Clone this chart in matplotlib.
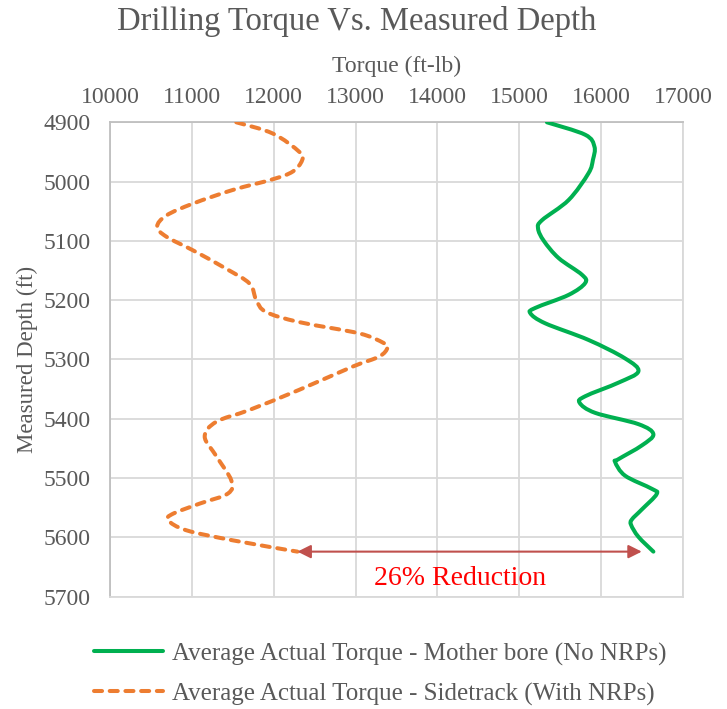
import matplotlib.pyplot as plt
import numpy as np
from matplotlib.path import Path
from matplotlib.patches import PathPatch
from matplotlib.lines import Line2D

plt.rcParams['font.family'] = ['Liberation Serif', 'DejaVu Serif']

# Mother bore (No NRPs)
mother_depth = [4900, 4921, 4941, 4963, 4986, 5031, 5065, 5079, 5100, 5129, 5157,
                5171, 5191, 5213, 5222, 5239, 5267, 5298, 5320, 5339, 5362, 5373,
                5390, 5409, 5426, 5445, 5468, 5473, 5496, 5518, 5527, 5553, 5570,
                5579, 5599, 5624]
mother_torque = [15338, 15805, 15918, 15900, 15845, 15603, 15278, 15229, 15300, 15481, 15765,
                 15805, 15603, 15196, 15135, 15317, 15845, 16290, 16455, 16212, 15805, 15737,
                 15927, 16455, 16638, 16496, 16212, 16171, 16293, 16618, 16678, 16496, 16374,
                 16366, 16455, 16638]

# Sidetrack (With NRPs)
side_depth = [4900, 4919, 4950, 4964, 4983, 4996, 5014, 5037, 5057, 5076, 5093,
              5116, 5147, 5172, 5200, 5220, 5237, 5256, 5272, 5280, 5295, 5312,
              5351, 5385, 5405, 5430, 5463, 5504, 5526, 5543, 5560, 5571, 5588,
              5605, 5624]
side_torque = [11543, 11990, 12314, 12347, 12233, 11990, 11502, 11015, 10690, 10576, 10690,
               11015, 11420, 11705, 11787, 11908, 12314, 13045, 13340, 13390, 13289, 12964,
               12314, 11705, 11299, 11157, 11299, 11482, 11441, 11096, 10771, 10710, 10933,
               11502, 12290]

label_mother = 'Average Actual Torque - Mother bore (No NRPs)'
label_side = 'Average Actual Torque - Sidetrack (With NRPs)'

arrow_depth = 5624
arrow_from = 12290
arrow_to = 16496
note = "26% Reduction"

x_ticks = list(range(10000, 17001, 1000))
y_ticks = list(range(4900, 5701, 100))

text_gray = '#595959'
grid_gray = '#D9D9D9'
green = '#00B050'
orange = '#ED7D31'
dash = (0, (2.0, 1.9))


def smooth_path(xs, ys):
    # Excel-style smoothed line: bezier segments through the points
    p = np.column_stack([xs, ys]).astype(float)
    n = len(p)
    verts = [p[0]]
    codes = [Path.MOVETO]
    for i in range(n - 1):
        p0 = p[max(i - 1, 0)]
        p1 = p[i]
        p2 = p[i + 1]
        p3 = p[min(i + 2, n - 1)]
        c1 = p1 + (p2 - p0) / 6.0
        c2 = p2 - (p3 - p1) / 6.0
        verts += [c1, c2, p2]
        codes += [Path.CURVE4] * 3
    return Path(verts, codes)


fig = plt.figure(figsize=(7.27, 7.09), dpi=100)
ax = fig.add_axes([0.1513, 0.1584, 0.7882, 0.6691])

g = PathPatch(smooth_path(mother_torque, mother_depth), fill=False,
              edgecolor=green, lw=2.9, capstyle='round', joinstyle='round', zorder=3)
ax.add_patch(g)
o = PathPatch(smooth_path(side_torque, side_depth), fill=False,
              edgecolor=orange, lw=2.9, ls=dash, capstyle='round', joinstyle='round', zorder=3)
ax.add_patch(o)

ax.annotate('', xy=(arrow_from, arrow_depth), xytext=(arrow_to, arrow_depth),
            arrowprops=dict(arrowstyle='<|-|>', color='#C0504D', lw=1.5,
                            mutation_scale=20, shrinkA=0, shrinkB=0))
ax.text((arrow_from + arrow_to) / 2 - 120, arrow_depth + 45, note, color='#FF0000',
        fontsize=20, ha='center', va='center')

ax.set_xlim(10000, 17000)
ax.set_ylim(5700, 4900)
ax.set_xticks(x_ticks)
ax.set_yticks(y_ticks)
ax.xaxis.tick_top()
ax.xaxis.set_label_position('top')
ax.tick_params(length=0, labelsize=17, labelcolor=text_gray)
ax.tick_params(axis='x', pad=10)
ax.tick_params(axis='y', pad=14)
ax.grid(True, color=grid_gray, lw=1.3)
ax.set_axisbelow(True)
for s in ax.spines.values():
    s.set_color(grid_gray)
    s.set_linewidth(1.3)
ax.spines['left'].set_color('#BFBFBF')
ax.spines['top'].set_color('#BFBFBF')

ax.set_xlabel('Torque (ft-lb)', fontsize=17, color=text_gray)
ax.xaxis.set_label_coords(0.5, 1.106)
ax.set_ylabel('Measured Depth (ft)', fontsize=16.5, color=text_gray)
ax.yaxis.set_label_coords(-0.125, 0.5)

fig.text(0.491, 0.970, 'Drilling Torque Vs. Measured Depth', fontsize=23.5,
         color=text_gray, ha='center', va='center')

handles = [Line2D([], [], color=green, lw=2.9, solid_capstyle='round'),
           Line2D([], [], color=orange, lw=2.9, ls=dash, dash_capstyle='round')]
fig.legend(handles, [label_mother, label_side], loc='upper left',
           bbox_to_anchor=(0.116, 0.108), frameon=False,
           fontsize=18, labelcolor=text_gray, handlelength=2.76, handletextpad=0.36,
           labelspacing=0.68, borderaxespad=0)

fig.savefig('out.png', dpi=100)
